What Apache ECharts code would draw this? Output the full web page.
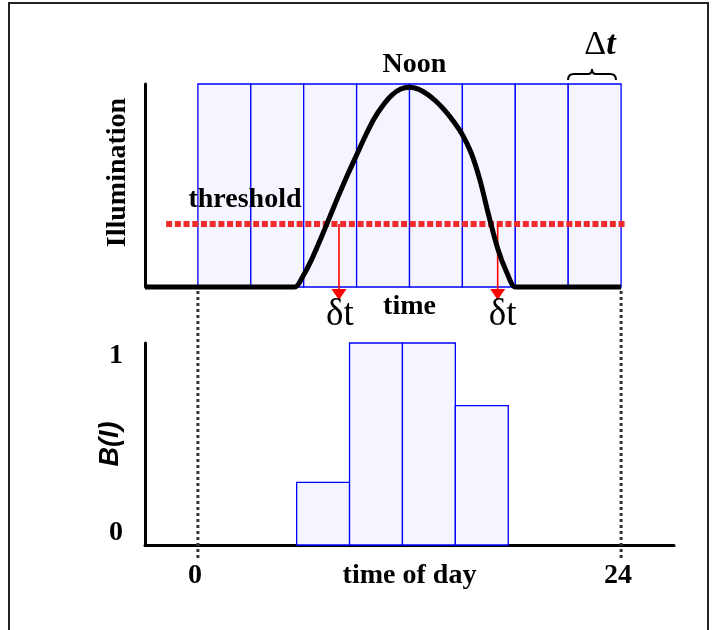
<!DOCTYPE html>
<html>
<head>
<meta charset="utf-8">
<title>Illumination and B(I) over the day</title>
<script src="https://cdn.jsdelivr.net/npm/echarts@6.0.0/dist/echarts.min.js"></script>
<style>
  html, body { margin: 0; padding: 0; background: #fff; }
  #chart { width: 726px; height: 630px; }
</style>
</head>
<body>
<div id="chart"></div>
<script>
// Hour-of-day ticks on the lower axis
const hourTicks = [0, 24];
// Δt sampling columns across the day (hours)
const sampleEdges = [0, 3, 6, 9, 12, 15, 18, 21, 24];
// Daily illumination curve (relative level)
const curveHours  = [-3, 5.0, 5.5, 6.0, 6.5, 7.0, 7.5, 8.0, 8.5, 9.0, 9.5, 10.0, 10.5, 11.0, 11.5, 12.0, 12.5, 13.0, 13.5, 14.0, 14.5, 15.0, 15.5, 16.0, 16.5, 17.0, 17.5, 18.0, 18.5, 24];
const curveLevels = [0, 0, 0, 0.06, 0.145, 0.245, 0.35, 0.455, 0.555, 0.65, 0.745, 0.83, 0.895, 0.945, 0.975, 0.984, 0.975, 0.95, 0.915, 0.87, 0.815, 0.75, 0.66, 0.525, 0.35, 0.19, 0.075, 0, 0, 0];
// Threshold level and its drawn extent (hours)
const thresholdLevel = 0.31;
const thresholdSpan = [-1.8, 24.3];
// Where the threshold crossings are marked (hours)
const crossingHours = [8.0, 17.0];
const arrowTipLevel = -0.037;
// B(I): fraction of each Δt bin above the threshold
const binEdges = [5.6, 8.6, 11.6, 14.6, 17.6];
const binFractions = [0.31, 1, 1, 0.69];
const bTicks = [0, 1];

const SERIF = '"Liberation Serif", "Times New Roman", "DejaVu Serif", serif';
const SANS = '"Liberation Sans", Arial, "DejaVu Sans", sans-serif';
const X_MIN = -3, X_MAX = 27;

const columnData = sampleEdges.slice(0, -1).map((e, i) => [e, sampleEdges[i + 1], 1]);
const binData = binFractions.map((f, i) => [binEdges[i], binEdges[i + 1], f]);

const peakIdx = curveLevels.indexOf(Math.max(...curveLevels));
const curveData = curveHours.map((h, i) => {
  const item = { value: [h, curveLevels[i]] };
  if (i === peakIdx) {
    item.label = {
      show: true, formatter: 'Noon', position: 'top', distance: 8, offset: [5, 0],
      fontFamily: SERIF, fontWeight: 'bold', fontSize: 28, color: '#000'
    };
  }
  return item;
});

function rectItem(params, api) {
  const p0 = api.coord([api.value(0), api.value(2)]);
  const p1 = api.coord([api.value(1), 0]);
  return {
    type: 'rect',
    shape: { x: p0[0], y: p0[1], width: p1[0] - p0[0], height: p1[1] - p0[1] },
    style: { fill: '#f5f5ff', stroke: '#0000ff', lineWidth: 1.3 }
  };
}

const arrowSeries = crossingHours.map((h, k) => ({
  type: 'line',
  xAxisIndex: 0, yAxisIndex: 0,
  clip: false,
  z: 4,
  symbol: 'none',
  lineStyle: { color: '#ff0000', width: 1.6 },
  data: [
    { value: [h, thresholdLevel] },
    {
      value: [h, arrowTipLevel],
      symbol: 'triangle', symbolRotate: 180, symbolSize: [15, 11],
      itemStyle: { color: '#ff0000' },
      label: {
        show: true, formatter: 'δt', position: 'inside', offset: [k === 0 ? 1 : 5, 21],
        fontFamily: SERIF, fontSize: 37, color: '#000'
      }
    }
  ]
}));

// Curly brace over one Δt column
const bracePieces = [
  { type: 'bezierCurve', shape: { x1: 568, y1: 80, cpx1: 568, cpy1: 74, x2: 574, y2: 74 } },
  { type: 'line', shape: { x1: 574, y1: 74, x2: 588, y2: 74 } },
  { type: 'bezierCurve', shape: { x1: 588, y1: 74, cpx1: 592, cpy1: 74, x2: 592, y2: 69 } },
  { type: 'bezierCurve', shape: { x1: 592, y1: 69, cpx1: 592, cpy1: 74, x2: 596, y2: 74 } },
  { type: 'line', shape: { x1: 596, y1: 74, x2: 610, y2: 74 } },
  { type: 'bezierCurve', shape: { x1: 610, y1: 74, cpx1: 616, cpy1: 74, x2: 616, y2: 80 } }
].map(p => Object.assign(p, { silent: true, z: 100, style: { stroke: '#000', lineWidth: 2, fill: null } }));

const chart = echarts.init(document.getElementById('chart'), null, { renderer: 'canvas' });
chart.setOption({
  animation: false,
  backgroundColor: '#fff',
  grid: [
    { left: 145, right: 52, top: 84, height: 203 },
    { left: 145, right: 52, top: 343, height: 202 },
    { left: 145, right: 52, top: 289, height: 269 }
  ],
  xAxis: [
    {
      gridIndex: 0, type: 'value', min: X_MIN, max: X_MAX,
      axisLine: { show: false }, axisTick: { show: false }, axisLabel: { show: false }, splitLine: { show: false },
      name: 'time', nameLocation: 'middle', nameGap: 6, nameMoveOverlap: false,
      nameTextStyle: { fontFamily: SERIF, fontWeight: 'bold', fontSize: 28, color: '#000' }
    },
    {
      gridIndex: 1, type: 'value', min: X_MIN, max: X_MAX,
      axisLine: { show: true, onZero: false, lineStyle: { color: '#000', width: 3 } },
      axisTick: { show: false }, splitLine: { show: false },
      axisLabel: {
        show: true, customValues: hourTicks, margin: 17, padding: [0, 6, 0, 0],
        fontFamily: SERIF, fontWeight: 'bold', fontSize: 28, color: '#000'
      },
      name: 'time of day', nameLocation: 'middle', nameGap: 17, nameMoveOverlap: false,
      nameTextStyle: { fontFamily: SERIF, fontWeight: 'bold', fontSize: 28, color: '#000' }
    },
    {
      gridIndex: 2, type: 'value', min: X_MIN, max: X_MAX, show: false
    }
  ],
  yAxis: [
    {
      gridIndex: 0, type: 'value', min: 0, max: 1,
      axisLine: { show: true, onZero: false, lineStyle: { color: '#000', width: 3 } },
      axisTick: { show: false }, axisLabel: { show: false }, splitLine: { show: false }
    },
    {
      gridIndex: 1, type: 'value', min: 0, max: 1,
      axisLine: { show: true, onZero: false, lineStyle: { color: '#000', width: 3 } },
      axisTick: { show: false }, splitLine: { show: false },
      axisLabel: {
        show: true, customValues: bTicks, margin: 22,
        formatter: v => (v === 0 ? '{lo|0}' : '{hi|1}'),
        rich: {
          lo: { fontFamily: SERIF, fontWeight: 'bold', fontSize: 28, color: '#000', padding: [0, 0, 25, 0] },
          hi: { fontFamily: SERIF, fontWeight: 'bold', fontSize: 28, color: '#000', padding: [25, 0, 0, 0] }
        }
      },
      name: 'B(I)', nameLocation: 'middle', nameGap: 21, nameRotate: 90, nameMoveOverlap: false,
      nameTextStyle: { fontFamily: SANS, fontWeight: 'bold', fontStyle: 'italic', fontSize: 27, color: '#000' }
    },
    {
      gridIndex: 2, type: 'value', min: 0, max: 1, show: false
    }
  ],
  series: [
    {
      type: 'custom', name: 'sampling', xAxisIndex: 0, yAxisIndex: 0, z: 1,
      renderItem: rectItem, encode: { x: [0, 1], y: 2 }, data: columnData
    },
    {
      type: 'line', name: 'threshold', xAxisIndex: 0, yAxisIndex: 0, z: 3,
      clip: false, symbol: 'none',
      lineStyle: { color: '#ee2a2a', width: 6, type: [6, 2.7] },
      data: thresholdSpan.map(h => [h, thresholdLevel])
    },
    {
      type: 'line', name: 'illumination', xAxisIndex: 0, yAxisIndex: 0, z: 5,
      clip: false, smooth: 0.3,
      symbol: 'circle', symbolSize: 0, showSymbol: true,
      itemStyle: { color: '#000' },
      lineStyle: { color: '#000', width: 5, join: 'round' },
      data: curveData
    },
    ...arrowSeries,
    {
      type: 'custom', name: 'B(I)', xAxisIndex: 1, yAxisIndex: 1, z: 2,
      renderItem: rectItem, encode: { x: [0, 1], y: 2 }, data: binData
    },
    ...hourTicks.map(h => ({
      type: 'line', xAxisIndex: 2, yAxisIndex: 2, z: 6, symbol: 'none',
      lineStyle: { color: '#333', width: 3, type: [3, 3] },
      data: [[h, 0], [h, 1]]
    }))
  ],
  graphic: [
    {
      type: 'polyline', silent: true, z: 100,
      shape: { points: [[9, 632], [9, 3], [708, 3], [708, 632]] },
      style: { stroke: '#222', lineWidth: 2, fill: null }
    },
    {
      type: 'text', x: 118, y: 172.5, rotation: Math.PI / 2, z: 100,
      style: { text: 'Illumination', font: 'bold 28px ' + SERIF, fill: '#000', align: 'center', verticalAlign: 'middle' }
    },
    {
      type: 'text', x: 245, y: 200, z: 100,
      style: { text: 'threshold', font: 'bold 28px ' + SERIF, fill: '#000', align: 'center', verticalAlign: 'middle' }
    },
    {
      type: 'text', x: 600, y: 45, z: 100,
      style: {
        text: '{a|Δ}{b|t}', align: 'center', verticalAlign: 'middle',
        rich: {
          a: { fontFamily: SERIF, fontSize: 34, fill: '#000' },
          b: { fontFamily: SERIF, fontSize: 34, fontWeight: 'bold', fontStyle: 'italic', fill: '#000' }
        }
      }
    },
    ...bracePieces
  ]
});
</script>
</body>
</html>
